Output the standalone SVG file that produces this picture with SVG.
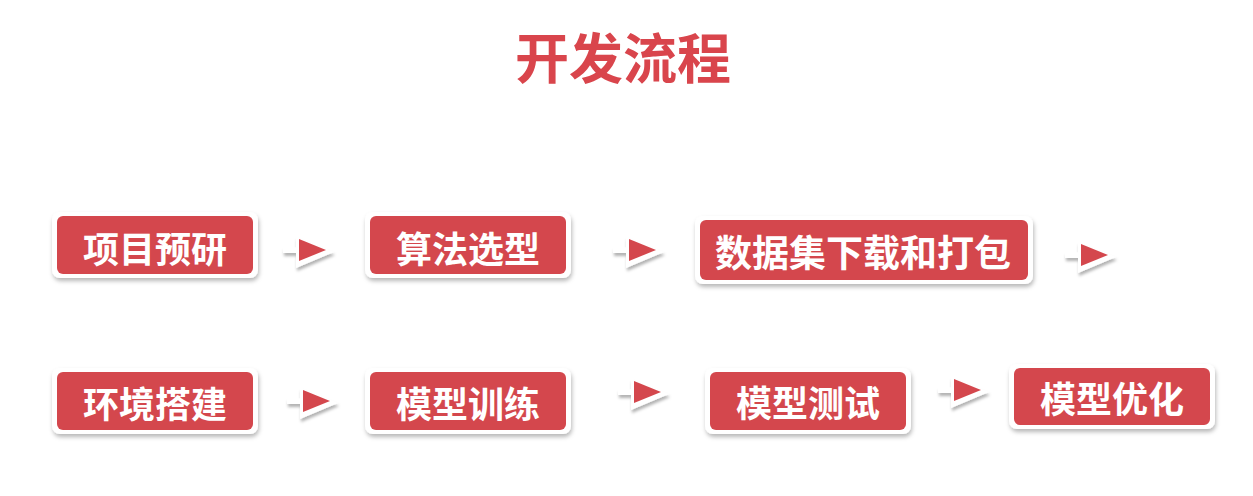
<svg xmlns="http://www.w3.org/2000/svg" width="1253" height="496" viewBox="0 0 1253 496">
<defs>
<filter id="sh" x="-10%" y="-20%" width="125%" height="150%">
<feDropShadow dx="1" dy="3" stdDeviation="2" flood-color="#000" flood-opacity="0.28"/>
</filter>
<filter id="sha" x="-30%" y="-40%" width="170%" height="190%">
<feDropShadow dx="1" dy="3" stdDeviation="1.6" flood-color="#000" flood-opacity="0.3"/>
</filter>
<g id="arrow">
<polygon points="0,-2.5 13,-2.5 13,-13 51,2 13,18 13,3 0,3" fill="#fff" filter="url(#sha)"/>
<polygon points="16,-11 43,0 16,11" fill="#d4474d"/>
</g>
</defs>
<style>
.outer{fill:#fff;filter:url(#sh)}
.inner{fill:#d4474d}
.lbl{fill:#fff;font-family:"Noto Sans CJK SC","Noto Sans CJK JP",sans-serif;font-weight:700;text-anchor:middle;dominant-baseline:central;font-size:36px}
.title{fill:#d9454c;font-family:"Noto Sans CJK SC","Noto Sans CJK JP",sans-serif;font-weight:700;text-anchor:middle;dominant-baseline:central;font-size:54px}
</style>
<rect width="1253" height="496" fill="#fff"/>
<text class="title" x="623" y="55">开发流程</text>
<g id="connectors">
<use href="#arrow" transform="translate(283,250)"/>
<use href="#arrow" transform="translate(613,250)"/>
<use href="#arrow" transform="translate(1065,255)"/>
<use href="#arrow" transform="translate(287,401)"/>
<use href="#arrow" transform="translate(618,392)"/>
<use href="#arrow" transform="translate(938,390)"/>
</g>
<g id="n1"><rect class="outer" x="52" y="212" width="206" height="66" rx="8"/><rect class="inner" x="57" y="216" width="196" height="58" rx="6"/><text class="lbl" x="155" y="247">项目预研</text></g>
<g id="n2"><rect class="outer" x="365" y="212" width="206" height="66" rx="8"/><rect class="inner" x="370" y="216" width="196" height="58" rx="6"/><text class="lbl" x="468" y="247">算法选型</text></g>
<g id="n3"><rect class="outer" x="695" y="216" width="338" height="68" rx="8"/><rect class="inner" x="700" y="220" width="328" height="60" rx="6"/><text class="lbl" x="863" y="251" style="font-size:37px">数据集下载和打包</text></g>
<g id="n4"><rect class="outer" x="52" y="368" width="206" height="66" rx="8"/><rect class="inner" x="57" y="372" width="196" height="58" rx="6"/><text class="lbl" x="155" y="402">环境搭建</text></g>
<g id="n5"><rect class="outer" x="365" y="368" width="206" height="66" rx="8"/><rect class="inner" x="370" y="372" width="196" height="58" rx="6"/><text class="lbl" x="468" y="402">模型训练</text></g>
<g id="n6"><rect class="outer" x="705" y="368" width="206" height="66" rx="8"/><rect class="inner" x="710" y="372" width="196" height="58" rx="6"/><text class="lbl" x="808" y="401">模型测试</text></g>
<g id="n7"><rect class="outer" x="1009" y="364" width="206" height="65" rx="8"/><rect class="inner" x="1014" y="368" width="196" height="57" rx="6"/><text class="lbl" x="1112" y="397">模型优化</text></g>
</svg>
